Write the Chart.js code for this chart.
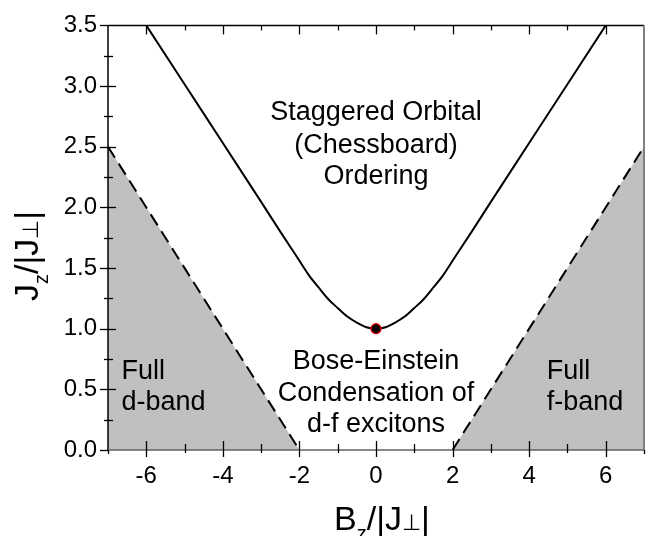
<!DOCTYPE html>
<html><head><meta charset="utf-8">
<script src="https://cdn.jsdelivr.net/npm/chart.js@4/dist/chart.umd.min.js"></script>
<style>html,body{margin:0;padding:0;background:#fff;}</style>
</head><body>
<canvas id="c" width="659" height="536"></canvas>
<script>
// ---- data ----
const curveB = [-6,-5,-4,-3,-2.5,-2,-1.75,-1.5,-1.25,-1,-0.75,-0.5,-0.25,0,0.25,0.5,0.75,1,1.25,1.5,1.75,2,2.5,3,4,5,6];
const curveJ = [3.5,3.015,2.53,2.045,1.80,1.56,1.44,1.34,1.245,1.17,1.10,1.05,1.012,1.0,1.012,1.05,1.10,1.17,1.245,1.34,1.44,1.56,1.80,2.045,2.53,3.015,3.5];
const dBandB = [-7,-2];
const dBandJ = [2.5,0];
const fBandB = [2,7];
const fBandJ = [0,2.5];
const pointB = [0];
const pointJ = [1];
const xMajorTicks = [-6,-4,-2,0,2,4,6];
const xMinorTicks = [-7,-5,-3,-1,1,3,5,7];
const yMajorTicks = [0,0.5,1,1.5,2,2.5,3,3.5];
const yMinorTicks = [0.25,0.75,1.25,1.75,2.25,2.75,3.25];
const regionTexts = [
  ['Staggered Orbital','(Chessboard)','Ordering'],
  ['Bose-Einstein','Condensation of','d-f excitons'],
  ['Full','d-band'],
  ['Full','f-band']
];

const FONT = '"Liberation Sans", Arial, sans-serif';
const toXY = (xs, ys) => xs.map((x,i)=>({x:x, y:ys[i]}));

// text placement (data units)
const textPlacement = [
  {x:0, y:[2.718,2.452,2.194], align:'center'},
  {x:0, y:[0.669,0.403,0.145], align:'center'},
  {x:-6.65, y:[0.589,0.331], align:'left'},
  {x:4.46, y:[0.589,0.331], align:'left'}
];

const decorPlugin = {
  id:'decor',
  afterDatasetsDraw(chart){
    const ctx = chart.ctx, xs = chart.scales.x, ys = chart.scales.y;
    const a = chart.chartArea;
    ctx.save();
    // region texts
    ctx.fillStyle = '#000';
    ctx.font = '27px ' + FONT;
    ctx.textBaseline = 'alphabetic';
    regionTexts.forEach((lines, k) => {
      const p = textPlacement[k];
      ctx.textAlign = p.align;
      lines.forEach((t, i) => ctx.fillText(t, xs.getPixelForValue(p.x), ys.getPixelForValue(p.y[i])));
    });
    // frame
    ctx.lineCap = 'butt';
    ctx.lineWidth = 1.5;
    ctx.strokeStyle = '#000';
    ctx.beginPath(); ctx.moveTo(a.left, a.top); ctx.lineTo(a.right, a.top); ctx.stroke();
    ctx.beginPath(); ctx.moveTo(a.left, a.top); ctx.lineTo(a.left, a.bottom); ctx.stroke();
    ctx.strokeStyle = '#606060';
    ctx.beginPath(); ctx.moveTo(a.left, a.bottom); ctx.lineTo(a.right, a.bottom); ctx.stroke();
    ctx.strokeStyle = '#808080';
    ctx.lineWidth = 2;
    ctx.beginPath(); ctx.moveTo(a.right, a.top); ctx.lineTo(a.right, a.bottom); ctx.stroke();
    // ticks
    ctx.strokeStyle = '#000';
    ctx.lineWidth = 1.3;
    const seg = (x1,y1,x2,y2)=>{ctx.beginPath();ctx.moveTo(x1,y1);ctx.lineTo(x2,y2);ctx.stroke();};
    xMajorTicks.forEach(v=>{const px=Math.round(xs.getPixelForValue(v))+0.5; seg(px,a.bottom-9,px,a.bottom+7); seg(px,a.top,px,a.top+9);});
    xMinorTicks.forEach(v=>{const px=Math.round(xs.getPixelForValue(v))+0.5; if(v>-7&&v<7){seg(px,a.bottom-6,px,a.bottom+3); seg(px,a.top,px,a.top+5);} else {seg(px,a.bottom,px,a.bottom+4);} });
    yMajorTicks.forEach(v=>{const py=Math.round(ys.getPixelForValue(v))+0.5; seg(a.left-8,py,a.left+(v>0&&v<3.5?8:0),py);});
    yMinorTicks.forEach(v=>{const py=Math.round(ys.getPixelForValue(v))+0.5; seg(a.left-4,py,a.left+5,py);});
    // axis titles
    const big = '34px ' + FONT, sub = '20px ' + FONT, perp = '22px ' + FONT;
    const parts = (letter) => [
      {t:letter, f:big, dy:0}, {t:'z', f:sub, dy:10}, {t:'/|J', f:big, dy:0}, {t:'\u22A5', f:perp, dy:0}, {t:'|', f:big, dy:0}
    ];
    const drawParts = (ps, cx, baseY) => {
      let w = 0; ps.forEach(p=>{ctx.font=p.f; p.w=ctx.measureText(p.t).width; w+=p.w;});
      let x = cx - w/2;
      ctx.textAlign='left';
      ps.forEach(p=>{ctx.font=p.f; ctx.fillText(p.t, x, baseY+p.dy); x+=p.w;});
    };
    drawParts(parts('B'), 382, 530);
    ctx.save();
    ctx.translate(38, 256);
    ctx.rotate(-Math.PI/2);
    drawParts(parts('J'), 0, 0);
    ctx.restore();
    ctx.restore();
  }
};

new Chart(document.getElementById('c'), {
  type:'scatter',
  data:{datasets:[
    {data:toXY(pointB,pointJ), pointRadius:5, pointHoverRadius:5, pointBackgroundColor:'#000', pointBorderColor:'#ff0000', pointBorderWidth:1.2, order:0},
    {data:toXY(curveB,curveJ), showLine:true, borderColor:'#000', borderWidth:2, pointRadius:0, cubicInterpolationMode:'monotone', fill:false, order:1},
    {data:toXY(dBandB,dBandJ), showLine:true, borderColor:'#000', borderWidth:2, borderDash:[13,7], pointRadius:0, fill:'origin', backgroundColor:'#c0c0c0', order:2},
    {data:toXY(fBandB,fBandJ), showLine:true, borderColor:'#000', borderWidth:2, borderDash:[13,7], pointRadius:0, fill:'origin', backgroundColor:'#c0c0c0', order:2}
  ]},
  options:{
    responsive:false, animation:false, devicePixelRatio:1,
    layout:{padding:{left:0,right:15,top:16,bottom:0}},
    plugins:{legend:{display:false}, tooltip:{enabled:false}},
    scales:{
      x:{type:'linear', min:-7, max:7,
        afterBuildTicks:(s)=>{s.ticks = xMajorTicks.map(v=>({value:v}));},
        afterFit:(s)=>{s.height = 86;},
        grid:{display:false, drawTicks:false}, border:{display:false},
        ticks:{padding:12, color:'#000', font:{family:FONT, size:24}, callback:(v)=>String(v), maxRotation:0, autoSkip:false}
      },
      y:{type:'linear', min:0, max:3.5,
        afterBuildTicks:(s)=>{s.ticks = yMajorTicks.map(v=>({value:v}));},
        afterFit:(s)=>{s.width = 108;},
        grid:{display:false, drawTicks:false}, border:{display:false},
        ticks:{padding:11, color:'#000', font:{family:FONT, size:24}, callback:(v)=>Number(v).toFixed(1), autoSkip:false}
      }
    }
  },
  plugins:[decorPlugin]
});
</script>
</body></html>
